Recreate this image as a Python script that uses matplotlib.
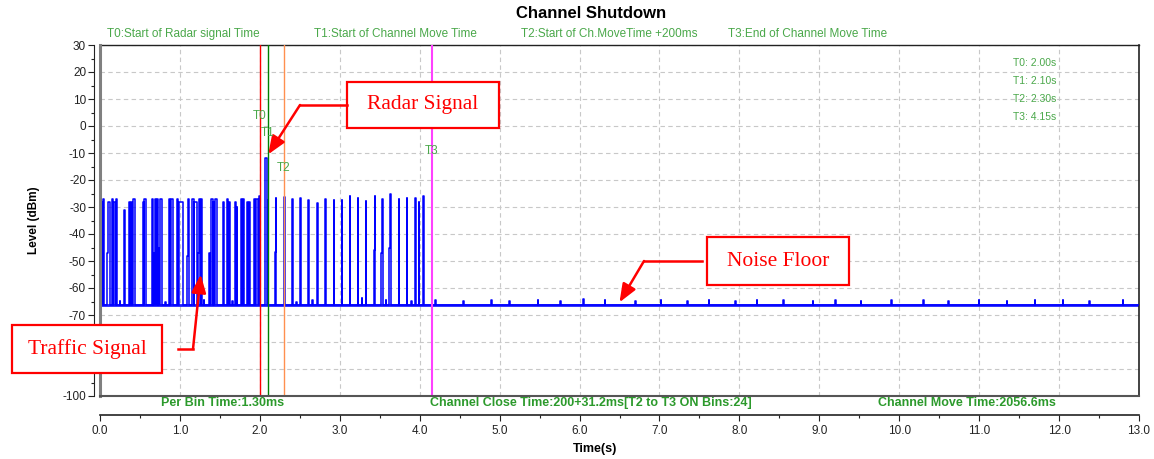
import matplotlib
matplotlib.use('Agg')
import matplotlib.pyplot as plt
from matplotlib.lines import Line2D
from matplotlib.patches import Rectangle
from matplotlib.ticker import MultipleLocator, FormatStrFormatter

plt.rcParams['font.family'] = ['Liberation Sans', 'DejaVu Sans']
plt.rcParams['axes.unicode_minus'] = False

# ---- data ----
floor_level = -66.3

# traffic / radar pulses: start (s), end (s), top level (dBm)
pulse_start = [0.000, 0.016, 0.034, 0.090, 0.100, 0.154, 0.175, 0.205, 0.300,
               0.358, 0.383, 0.417, 0.533, 0.555,
               0.646, 0.667, 0.6875, 0.708, 0.729, 0.750,
               0.867, 0.8875, 0.958, 0.9875, 1.083, 1.095, 1.150, 1.179,
               1.229, 1.240, 1.258, 1.367, 1.3875, 1.417, 1.440, 1.540,
               1.583, 1.610, 1.6875, 1.708, 1.758, 1.785, 1.842, 1.865,
               1.925, 1.950, 1.990,
               2.060, 2.070,
               2.100, 2.190, 2.197, 2.305, 2.400, 2.407, 2.505, 2.605, 2.715, 2.815, 2.925,
               3.025, 3.125, 3.225, 3.325, 3.430, 3.437, 3.520, 3.527, 3.620, 3.627, 3.735,
               3.835, 3.945, 3.990, 4.045]
pulse_end = [0.012, 0.030, 0.050, 0.100, 0.120, 0.168, 0.200, 0.217, 0.310,
             0.375, 0.405, 0.4375, 0.545, 0.571,
             0.660, 0.680, 0.700, 0.720, 0.740, 0.779,
             0.880, 0.917, 0.975, 1.033, 1.095, 1.108, 1.170, 1.208,
             1.240, 1.250, 1.271, 1.380, 1.410, 1.430, 1.458, 1.550,
             1.600, 1.625, 1.700, 1.717, 1.775, 1.800, 1.855, 1.883,
             1.940, 1.979, 2.000,
             2.070, 2.090,
             2.107, 2.197, 2.205, 2.312, 2.407, 2.415, 2.512, 2.612, 2.722, 2.822, 2.932,
             3.032, 3.132, 3.232, 3.332, 3.437, 3.445, 3.527, 3.535, 3.627, 3.635, 3.742,
             3.842, 3.952, 3.997, 4.052]
pulse_level = [-27, -28, -27, -47, -28, -27, -28, -27, -31,
               -28, -28, -27, -28, -27,
               -27, -47, -27, -27, -45, -27,
               -27, -27, -27, -28, -48, -27, -27, -28,
               -47, -27, -27, -47, -27, -28, -27, -28,
               -27, -28, -28, -30, -27, -27, -28, -28,
               -27, -27, -26,
               -40, -12,
               -27.4, -46.7, -26.7, -26.3, -47.5, -27, -26.7, -27.4, -28.4, -27, -27.4,
               -27.4, -25.8, -26.5, -27.7, -45.9, -25.8, -47, -27, -45, -25.2, -27,
               -26.5, -26.5, -28, -26]

# small bumps on the noise floor
bump_time = [0.25, 0.82, 1.30, 1.66, 2.46, 2.66, 3.28, 3.58, 3.90, 4.20, 4.55, 4.90,
             5.12, 5.48, 5.76, 6.05, 6.32, 6.70, 7.02, 7.35, 7.62, 7.95, 8.22, 8.55,
             8.92, 9.20, 9.52, 9.90, 10.30, 10.62, 11.00, 11.35, 11.70, 12.05, 12.38,
             12.80]
bump_level = [-64.8, -65.0, -64.6, -64.9, -65.0, -64.5, -63.8, -64.6, -64.9, -64.4, -64.8,
              -64.3, -64.9, -64.5, -64.7, -64.2, -64.6, -64.9, -64.4, -64.8, -64.5, -64.9,
              -64.6, -64.3, -64.8, -64.5, -64.9, -64.4, -64.6, -64.8, -64.5, -64.9, -64.6,
              -64.3, -64.7, -64.5]

t_end = 13.0
marker_names = ['T0', 'T1', 'T2', 'T3']
marker_times = [2.00, 2.10, 2.30, 4.15]
marker_label_levels = [3.7, -2.6, -15.6, -9.3]
marker_colors = ['#ff0000', '#008000', '#ff9050', '#ff40ff']
header_texts = ['T0:Start of Radar signal Time', 'T1:Start of Channel Move Time',
                'T2:Start of Ch.MoveTime +200ms', 'T3:End of Channel Move Time']
footer_texts = ['Per Bin Time:1.30ms', 'Channel Close Time:200+31.2ms[T2 to T3 ON Bins:24]',
                'Channel Move Time:2056.6ms']

# ---- build the trace ----
events = list(zip(pulse_start, pulse_end, pulse_level))
events += [(t - 0.004, t + 0.004, lv) for t, lv in zip(bump_time, bump_level)]
events.sort()

xs, ys = [], []
for k, (s, e, lv) in enumerate(events):
    if not (k > 0 and abs(s - events[k - 1][1]) < 1e-9):
        xs.append(s)
        ys.append(floor_level)
    xs += [s, e]
    ys += [lv, lv]
    if not (k + 1 < len(events) and abs(events[k + 1][0] - e) < 1e-9):
        xs.append(e)
        ys.append(floor_level)
xs.append(t_end)
ys.append(floor_level)

W, H = 1154, 459


def fx(px):
    return px / W


def fy(py):
    return 1 - py / H


fig = plt.figure(figsize=(W / 100, H / 100), dpi=100)
ax = fig.add_axes([fx(100), fy(396), fx(1139) - fx(100), fy(45) - fy(396)])

green = '#4aa84a'
dkgreen = '#2c9a2c'

ax.hlines(floor_level, 0, t_end, color='#2020ff', lw=2.0, zorder=2)
ax.plot(xs, ys, color='#0000ff', lw=1.1, zorder=3)

for name, t, lv, c in zip(marker_names, marker_times, marker_label_levels, marker_colors):
    ax.axvline(t, color=c, lw=1.5 if name == 'T3' else 1.0, zorder=4)
    ax.text(t, lv, name, color=green, fontsize=8.5, ha='center', va='center', zorder=12)

ax.set_xlim(0, 13)
ax.set_ylim(-100, 30)
ax.xaxis.set_major_locator(MultipleLocator(1))
ax.xaxis.set_minor_locator(MultipleLocator(0.5))
ax.xaxis.set_major_formatter(FormatStrFormatter('%.1f'))
ax.yaxis.set_major_locator(MultipleLocator(10))
ax.yaxis.set_minor_locator(MultipleLocator(5))
ax.grid(True, which='major', color='#c8c8c8', ls=(0, (4, 3)), lw=0.8)
ax.set_axisbelow(True)

ax.spines['bottom'].set_position(('outward', 14))
ax.spines['left'].set_position(('outward', 4))
for sp in ['bottom', 'left', 'top', 'right']:
    ax.spines[sp].set_color('#222222')
ax.spines['bottom'].set_linewidth(1.2)
ax.spines['left'].set_linewidth(0.8)
ax.spines['top'].set_linewidth(1.0)
ax.spines['right'].set_linewidth(1.2)
ax.axvline(0, color='#808080', lw=2.2, clip_on=False, zorder=6)
ax.axhline(-100, color='#555555', lw=1.5, clip_on=False, zorder=6)

ax.tick_params(axis='both', which='major', direction='out', length=4, width=0.8,
               labelsize=8.5, color='#222222', labelcolor='#222222')
ax.tick_params(axis='both', which='minor', direction='out', length=2.5, width=0.8,
               color='#222222')
ax.tick_params(axis='x', pad=3)
ax.tick_params(axis='y', pad=2)

ax.set_ylabel('Level (dBm)', fontsize=8.5, fontweight='bold')
ax.yaxis.set_label_coords((40 - 100) / 1039, 0.5)
ax.set_xlabel('Time(s)', fontsize=9, fontweight='bold')
ax.xaxis.set_label_coords((595 - 100) / 1039, (396 - 443) / 351)

# the -80 / -90 labels sit under the Traffic Signal box in the reference
fig.canvas.draw()
for lab in ax.get_yticklabels():
    if lab.get_text() in ('-80', '-90'):
        lab.set_visible(False)

fig.text(fx(591), fy(14), 'Channel Shutdown', fontsize=12, fontweight='bold',
         ha='center', va='center')
for px, txt in zip([107, 314, 521, 728], header_texts):
    fig.text(fx(px), fy(34), txt, fontsize=8.5, color=green, ha='left', va='center')

for i, (name, t) in enumerate(zip(marker_names, marker_times)):
    fig.text(fx(1013), fy(63 + 18 * i), '%s: %.2fs' % (name, t), fontsize=7.5,
             color=green, ha='left', va='center')

for px, txt in zip([223, 591, 967], footer_texts):
    fig.text(fx(px), fy(403), txt, fontsize=9, fontweight='bold', color=dkgreen,
             ha='center', va='center')

# red callout boxes
callouts = [
    ('Radar Signal', (347, 82, 499, 128), [(347, 105), (300, 105)], (2.105, -10.5)),
    ('Traffic Signal', (12, 325, 162, 373), [(178, 349), (193, 349)], (1.26, -55.0)),
    ('Noise Floor', (707, 237, 849, 285), [(702, 261), (644, 261)], (6.5, -65.3)),
]
for txt, (x0, y0, x1, y1), path, tip in callouts:
    fig.add_artist(Rectangle((fx(x0), fy(y1)), fx(x1) - fx(x0), fy(y0) - fy(y1),
                             transform=fig.transFigure, fill=True, facecolor='white',
                             edgecolor='#ff0000', lw=1.6, zorder=10))
    fig.text(fx((x0 + x1) / 2), fy((y0 + y1) / 2), txt, fontsize=15.5, color='#ff0000',
             family='Liberation Serif', ha='center', va='center', zorder=11)
    fig.add_artist(Line2D([fx(p[0]) for p in path], [fy(p[1]) for p in path],
                          transform=fig.transFigure, color='#ff0000', lw=1.8, zorder=10))
    ax.annotate('', xy=tip, xycoords='data',
                xytext=(fx(path[-1][0]), fy(path[-1][1])), textcoords='figure fraction',
                arrowprops=dict(arrowstyle='-|>,head_length=0.55,head_width=0.22',
                                color='#ff0000', lw=1.8, mutation_scale=20,
                                shrinkA=0, shrinkB=0),
                annotation_clip=False, zorder=10)

fig.savefig('out.png', dpi=100)
